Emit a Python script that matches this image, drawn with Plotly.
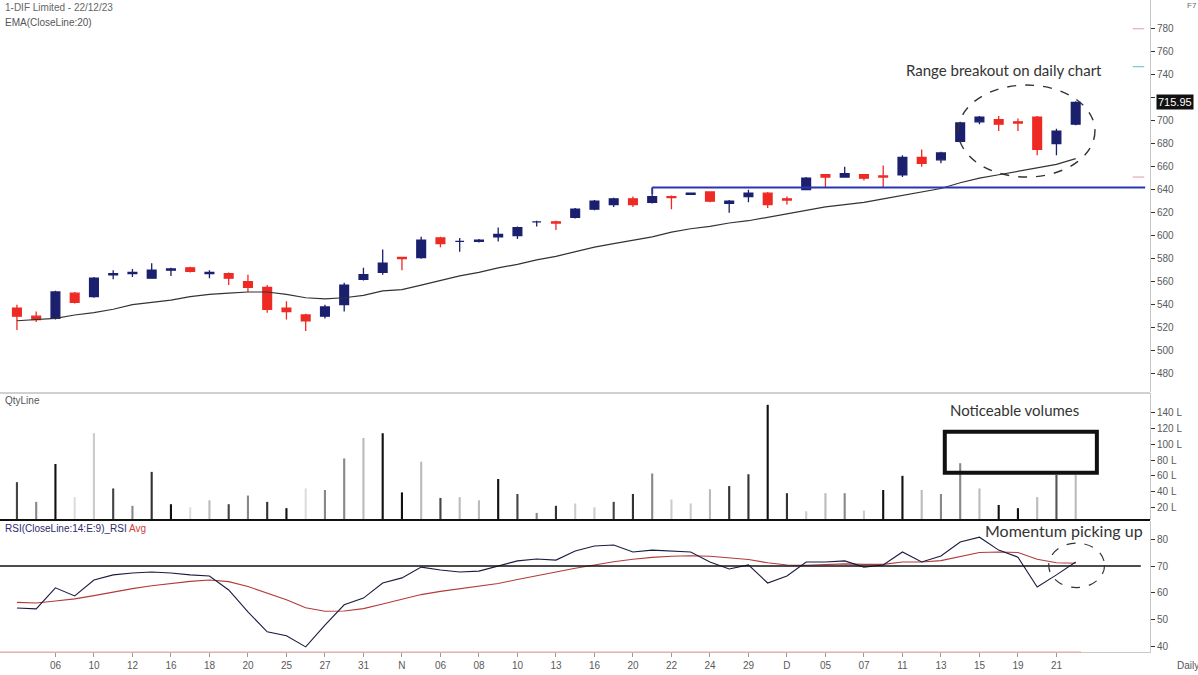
import plotly.graph_objects as go

# ---------------- data ----------------
dates = (
    ["2023-10-%02d" % d for d in [4, 5, 6, 9, 10, 11, 12, 13, 16, 17, 18, 19, 20, 23, 25, 26, 27, 30, 31]]
    + ["2023-11-%02d" % d for d in [1, 2, 3, 6, 7, 8, 9, 10, 12, 13, 15, 16, 17, 20, 21, 22, 23, 24, 28, 29, 30]]
    + ["2023-12-%02d" % d for d in [1, 4, 5, 6, 7, 8, 11, 12, 13, 14, 15, 18, 19, 20, 21, 22]]
)
tick_labels = ["06", "10", "12", "16", "18", "20", "25", "27", "31", "N", "06", "08", "10", "13",
               "16", "20", "22", "24", "29", "D", "05", "07", "11", "13", "15", "19", "21"]

open_ = [537, 530, 528, 550, 547, 566, 567, 563, 570, 572, 567, 567, 560, 555, 537, 531, 530, 540, 562, 568,
         581, 581, 598, 595, 595, 599, 600, 612, 612, 616, 623, 627, 632, 629, 634, 636, 638, 628, 634, 637,
         632, 640, 653, 651, 653, 652, 653, 668, 666, 682, 699, 701, 699, 703, 680, 697]
high = [540, 534, 552, 551, 564, 570, 571, 576, 572, 573, 570, 568, 566, 557, 543, 532, 540, 559, 572, 588,
        581, 599, 599, 598, 597, 607, 608, 613, 613, 624, 631, 633, 634, 636, 635, 637, 638, 631, 640, 638,
        634, 651, 653, 660, 653, 661, 670, 675, 673, 699, 704, 704, 702, 704, 693, 717]
low = [518, 525, 527, 541, 546, 562, 564, 563, 565, 568, 563, 557, 551, 533, 527, 517, 528, 534, 561, 566,
       570, 580, 590, 586, 594, 595, 597, 608, 605, 615, 622, 625, 625, 628, 623, 636, 629, 620, 629, 624,
       627, 640, 642, 651, 648, 642, 651, 660, 663, 681, 697, 691, 691, 670, 670, 696]
close = [530, 527, 551, 542, 563, 567, 568, 570, 571, 569, 568, 563, 555, 536, 534, 526, 538, 557, 566, 576,
         580, 596, 593, 595, 596, 601, 607, 612, 611, 623, 630, 632, 627, 634, 633, 637, 630, 630, 637, 627,
         631, 650, 651, 654, 650, 651, 668, 663, 672, 698, 703, 697, 698, 675, 691, 715.95]

ema20 = [526, 527, 528, 531, 533, 536, 540, 542, 544, 547, 549, 550, 551, 551, 549, 546, 545, 546, 548, 552,
         553, 557, 561, 565, 568, 572, 575, 579, 582, 586, 590, 593, 596, 599, 603, 606, 608, 611, 613, 616,
         619, 622, 625, 627, 629, 632, 635, 638, 641, 646, 650, 653, 656, 659, 662, 667]

volume_lakh = [52, 27, 75, 33, 114, 44, 22, 65, 24, 20, 29, 24, 35, 27, 19, 44, 42, 82, 108, 114,
               39, 78, 32, 33, 29, 56, 37, 13, 22, 25, 20, 27, 37, 63, 30, 25, 43, 47, 62, 150,
               38, 15, 38, 38, 16, 42, 60, 42, 37, 76, 44, 23, 19, 33, 61, 61]

rsi = [54.4, 54.1, 61.9, 58.9, 64.8, 66.7, 67.4, 67.8, 67.4, 66.7, 66.3, 61.1, 53.0, 45.6, 44.1, 40.0,
       48.1, 55.6, 58.1, 63.7, 65.6, 69.6, 68.5, 67.8, 68.1, 70.0, 71.9, 72.6, 72.2, 75.6, 77.4, 77.8,
       75.2, 75.9, 75.6, 75.2, 71.5, 68.9, 70.4, 63.7, 66.3, 71.5, 71.5, 71.9, 69.6, 70.4, 75.2, 71.5,
       73.7, 78.9, 80.7, 75.9, 73.3, 62.2, 66.7, 71.5]
rsi_avg = [56.5, 56.3, 57.0, 57.8, 59.0, 60.4, 61.6, 62.7, 63.6, 64.3, 64.8, 64.2, 62.4, 60.0, 57.5, 54.5,
           53.2, 53.3, 54.2, 55.9, 57.6, 59.4, 60.6, 61.6, 62.5, 63.5, 65.0, 66.5, 67.8, 69.2, 70.5, 71.6,
           72.5, 73.2, 73.6, 73.8, 73.6, 73.0, 72.4, 71.2, 70.4, 70.3, 70.5, 70.8, 70.6, 70.6, 71.5, 71.5,
           72.0, 73.5, 75.0, 75.2, 75.0, 72.5, 71.2, 71.0]

breakout_level = 642
breakout_start = "2023-11-21"
rsi_level = 70

price_ticks = list(range(480, 781, 20))
price_tick_text = ["" if v == 720 else str(v) for v in price_ticks]  # 720 hidden under last-price box
vol_ticks = [20, 40, 60, 80, 100, 120, 140]
vol_tick_text = ["%d L" % v for v in vol_ticks]
rsi_ticks = [40, 50, 60, 70, 80]

# ---------------- styling ----------------
shade = ["#444", "#888", "#111", "#ddd", "#ccc", "#444", "#888", "#333", "#111", "#ddd", "#bbb", "#444",
         "#888", "#333", "#111", "#ddd", "#888", "#888", "#bbb", "#111", "#111", "#bbb", "#444", "#bbb",
         "#bbb", "#111", "#444", "#888", "#333", "#ccc", "#ccc", "#444", "#333", "#888", "#ccc", "#ccc",
         "#bbb", "#333", "#333", "#111", "#333", "#ccc", "#bbb", "#888", "#ccc", "#111", "#111", "#bbb",
         "#888", "#888", "#bbb", "#111", "#111", "#bbb", "#555", "#bbb"]

NAVY = "#1a1f6e"
RED = "#ee2a24"
AX = "#5a5a5a"
FONT = "Liberation Sans"

fig = go.Figure()

fig.add_trace(go.Candlestick(
    x=dates, open=open_, high=high, low=low, close=close,
    increasing=dict(line=dict(color=NAVY, width=1.3), fillcolor=NAVY),
    decreasing=dict(line=dict(color=RED, width=1.3), fillcolor=RED),
    whiskerwidth=0, xaxis="x", yaxis="y", showlegend=False, hoverinfo="skip",
))
fig.add_trace(go.Scatter(x=dates, y=ema20, mode="lines", line=dict(color="#333", width=1.2),
                         xaxis="x", yaxis="y", showlegend=False, hoverinfo="skip"))

fig.add_trace(go.Bar(x=dates, y=volume_lakh, width=0.11, marker=dict(color=shade, line=dict(width=0)),
                     xaxis="x", yaxis="y2", showlegend=False, hoverinfo="skip"))

fig.add_trace(go.Scatter(x=dates, y=rsi_avg, mode="lines", line=dict(color="#b33a3a", width=1.1),
                         xaxis="x", yaxis="y3", showlegend=False, hoverinfo="skip"))
fig.add_trace(go.Scatter(x=dates, y=rsi, mode="lines", line=dict(color="#1b1b40", width=1.1),
                         xaxis="x", yaxis="y3", showlegend=False, hoverinfo="skip"))

H = 652.0
def pdom(top, bot):
    return [(H - bot) / H, (H - top) / H]

tickfont = dict(family=FONT, size=10, color=AX)
common_y = dict(side="right", showgrid=False, zeroline=False, showline=True, linecolor="#c8c8c8",
                linewidth=1, ticks="outside", ticklen=4, tickcolor="#333", tickfont=tickfont,
                anchor="x")

X_MAX = 58.86
fig.update_layout(
    width=1198, height=675,
    margin=dict(l=0, r=48, t=0, b=23),
    paper_bgcolor="white", plot_bgcolor="white",
    showlegend=False,
    xaxis=dict(type="category", range=[-0.88, X_MAX], anchor="y3", showgrid=False, zeroline=False,
               showline=True, linecolor="#c8c8c8", rangeslider=dict(visible=False),
               tickmode="array", tickvals=dates[2::2], ticktext=tick_labels,
               ticks="outside", ticklen=4, tickcolor="#999", tickfont=tickfont),
    yaxis=dict(domain=pdom(0, 392), range=[464, 805], tickvals=price_ticks, ticktext=price_tick_text, **common_y),
    yaxis2=dict(domain=pdom(393, 520), range=[4, 165], tickvals=vol_ticks, ticktext=vol_tick_text, **common_y),
    yaxis3=dict(domain=pdom(521, 652), range=[38.1, 86.7], tickvals=rsi_ticks, **common_y),
    boxgap=0.35,
)

bi = dates.index(breakout_start)
shapes = []
# breakout line (horizontal level + small start tick)
shapes.append(dict(type="line", xref="x", yref="y", x0=bi, x1=X_MAX - 0.25, y0=breakout_level, y1=breakout_level,
                   line=dict(color="#2b35b0", width=2)))
shapes.append(dict(type="line", xref="x", yref="y", x0=bi, x1=bi, y0=breakout_level - 6, y1=breakout_level,
                   line=dict(color="#2b35b0", width=2)))
# panel separators
shapes.append(dict(type="line", xref="paper", yref="paper", x0=0, x1=1, y0=pdom(393, 520)[1], y1=pdom(393, 520)[1],
                   line=dict(color="#c0c0c0", width=1.5)))
shapes.append(dict(type="line", xref="paper", yref="paper", x0=0, x1=1, y0=pdom(393, 520)[0], y1=pdom(393, 520)[0],
                   line=dict(color="#111", width=2)))
shapes.append(dict(type="line", xref="paper", yref="paper", x0=0, x1=0.94, y0=0, y1=0,
                   line=dict(color="#f0a0a0", width=1)))
# RSI 70 line
shapes.append(dict(type="line", xref="paper", yref="y3", x0=0, x1=0.992, y0=rsi_level, y1=rsi_level,
                   line=dict(color="#111", width=1.6)))
# price ellipse
shapes.append(dict(type="circle", xref="x", yref="y", x0=48.9, x1=56.0, y0=651, y1=731,
                   line=dict(color="#333", width=1.4, dash="dash")))
# volume box
shapes.append(dict(type="rect", xref="x", yref="y2", x0=48.2, x1=56.1, y0=64, y1=116,
                   line=dict(color="#111", width=4)))
# RSI circle
shapes.append(dict(type="circle", xref="x", yref="y3", x0=53.6, x1=56.5, y0=62, y1=78.5,
                   line=dict(color="#333", width=1.2, dash="dash")))
# small right markers
for yv, col in [(780, "#e8a8c8"), (747, "#7ac8c8"), (651, "#e8a8c8")]:
    shapes.append(dict(type="line", xref="paper", yref="y", x0=0.985, x1=0.995, y0=yv, y1=yv,
                       line=dict(color=col, width=1.2)))
fig.update_layout(shapes=shapes)

ann = []
ann.append(dict(xref="paper", yref="paper", x=0.003, y=1 - 7 / H, xanchor="left", yanchor="middle",
                text="1-DIF Limited - 22/12/23", showarrow=False, font=dict(family=FONT, size=10, color="#666")))
ann.append(dict(xref="paper", yref="paper", x=0.003, y=1 - 22 / H, xanchor="left", yanchor="middle",
                text="EMA(CloseLine:20)", showarrow=False, font=dict(family=FONT, size=10, color="#555")))
ann.append(dict(xref="paper", yref="paper", x=0.003, y=1 - 400 / H, xanchor="left", yanchor="middle",
                text="QtyLine", showarrow=False, font=dict(family=FONT, size=10, color="#555")))
ann.append(dict(xref="paper", yref="paper", x=0.003, y=1 - 528 / H, xanchor="left", yanchor="middle",
                text="<span style='color:#2a2a70'>RSI(CloseLine:14:E:9)_RSI</span> <span style='color:#d04040'>Avg</span>",
                showarrow=False, font=dict(family=FONT, size=10, color="#555")))
ann.append(dict(xref="x", yref="y", x=51.3, y=744, text="Range breakout on daily chart", showarrow=False,
                font=dict(family="Lato", size=15, color="#333")))
ann.append(dict(xref="x", yref="y2", x=51.8, y=143, text="Noticeable volumes", showarrow=False,
                font=dict(family="Lato", size=15, color="#333")))
ann.append(dict(xref="x", yref="y3", x=54.4, y=83.3, text="Momentum picking up", showarrow=False,
                font=dict(family="Lato", size=16, color="#333")))
ann.append(dict(xref="paper", yref="y", x=1.005, y=close[-1], xanchor="left", yanchor="middle",
                text="%.2f" % close[-1], showarrow=False, bgcolor="#111", borderpad=1,
                font=dict(family=FONT, size=11, color="white")))
ann.append(dict(xref="paper", yref="paper", x=1.03, y=1 - 6 / H, xanchor="left", yanchor="middle",
                text="F7", showarrow=False, font=dict(family=FONT, size=8, color="#666")))
ann.append(dict(xref="paper", yref="paper", x=1.022, y=-(665 - H) / H, xanchor="left", yanchor="middle",
                text="Daily", showarrow=False, font=dict(family=FONT, size=10, color="#555")))
fig.update_layout(annotations=ann)

fig.write_html("out.html")
